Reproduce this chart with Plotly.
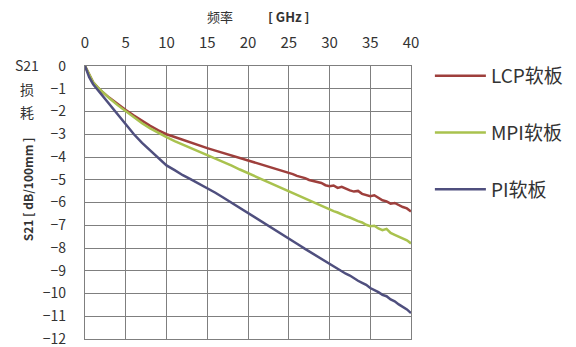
import plotly.graph_objects as go

freq = [0, 0.5, 1, 1.5, 2, 3, 4, 5, 6, 7, 8, 9, 10, 11, 12, 13, 14, 15, 16, 17, 18, 19,
        20, 20.5, 21, 21.5, 22, 22.5, 23, 23.5, 24, 24.5, 25, 25.5, 26, 26.5, 27, 27.5,
        28, 28.5, 29, 29.5, 30, 30.5, 31, 31.5, 32, 32.5, 33, 33.5, 34, 34.5, 35, 35.5,
        36, 36.5, 37, 37.5, 38, 38.5, 39, 39.5, 40]

lcp = [0, -0.4, -0.72, -0.92, -1.1, -1.4, -1.68, -1.93, -2.18, -2.42, -2.63, -2.83, -3.0,
       -3.12, -3.25, -3.38, -3.5, -3.61, -3.72, -3.83, -3.94, -4.05,
       -4.15, -4.21, -4.25, -4.32, -4.37, -4.41, -4.48, -4.53, -4.59, -4.64, -4.71, -4.75,
       -4.83, -4.87, -4.93, -5.01, -5.05, -5.12, -5.14, -5.24, -5.28, -5.25, -5.36, -5.31,
       -5.40, -5.47, -5.52, -5.49, -5.62, -5.66, -5.72, -5.68, -5.80, -5.90, -5.95, -6.05,
       -6.02, -6.12, -6.20, -6.26, -6.40]

mpi = [0, -0.4, -0.72, -0.92, -1.1, -1.42, -1.72, -2.0, -2.27, -2.52, -2.74, -2.95, -3.13,
       -3.3, -3.45, -3.6, -3.75, -3.9, -4.05, -4.21, -4.38, -4.55,
       -4.71, -4.79, -4.87, -4.95, -5.03, -5.11, -5.19, -5.27, -5.35, -5.43, -5.51, -5.58,
       -5.67, -5.74, -5.83, -5.91, -5.99, -6.07, -6.16, -6.22, -6.31, -6.38, -6.44, -6.53,
       -6.60, -6.66, -6.75, -6.82, -6.88, -6.98, -7.04, -7.02, -7.14, -7.22, -7.16, -7.34,
       -7.42, -7.50, -7.58, -7.66, -7.80]

pi = [0, -0.48, -0.8, -1.02, -1.22, -1.7, -2.15, -2.59, -3.0, -3.38, -3.72, -4.05, -4.37,
      -4.58, -4.8, -4.98, -5.17, -5.35, -5.57, -5.79, -6.01, -6.23,
      -6.46, -6.57, -6.68, -6.79, -6.90, -7.01, -7.12, -7.23, -7.34, -7.45, -7.56, -7.68,
      -7.80, -7.92, -8.04, -8.15, -8.27, -8.38, -8.50, -8.58, -8.72, -8.82, -8.91, -9.02,
      -9.13, -9.21, -9.33, -9.44, -9.53, -9.62, -9.76, -9.84, -9.94, -10.06, -10.12, -10.26,
      -10.34, -10.48, -10.60, -10.70, -10.86]

series_names = ["LCP软板", "MPI软板", "PI软板"]
series_values = [lcp, mpi, pi]
series_colors = ["#9e3f3c", "#a9c24e", "#4f4f7e"]

x_ticks = [0, 5, 10, 15, 20, 25, 30, 35, 40]
y_ticks = list(range(0, -13, -1))

# page body has an 8px default margin; lay out in screen pixels and shift
OFF = 8
W, H = 576 - OFF, 347 - OFF
L, R, T, B = 85, 413, 66, 339  # plot area in screen pixels

def px(x):
    return (x - L) / (R - L)

def py(y):
    return (B - y) / (B - T)

fig = go.Figure()
for i, (name, vals, col) in enumerate(zip(series_names, series_values, series_colors)):
    fig.add_trace(go.Scatter(x=freq, y=vals, mode="lines", name=name,
                             legendgroup=str(i),
                             line=dict(color=col, width=2.5)))

font_main = "Noto Sans CJK SC, Liberation Sans, sans-serif"
fig.update_layout(
    width=W, height=H,
    margin=dict(l=L - OFF, r=576 - R, t=T - OFF, b=347 - B),
    paper_bgcolor="white", plot_bgcolor="white",
    font=dict(family=font_main, color="#333333", size=15),
    showlegend=True,
    legend=dict(x=px(432), y=py(57), xanchor="left", yanchor="top",
                traceorder="grouped", tracegroupgap=29, itemwidth=51,
                font=dict(size=19, color="#333333"),
                bgcolor="rgba(0,0,0,0)"),
    xaxis=dict(range=[0, 40], side="top", tickvals=x_ticks, automargin=False,
               showgrid=True, gridcolor="#7f7f7f", gridwidth=1.2,
               showline=True, linecolor="#7f7f7f", linewidth=1.2, mirror=True,
               ticks="", ticklabelstandoff=11, zeroline=False,
               tickfont=dict(size=15, color="#333333")),
    yaxis=dict(range=[-12, 0], tickvals=y_ticks, automargin=False,
               showgrid=True, gridcolor="#7f7f7f", gridwidth=1.2,
               showline=True, linecolor="#7f7f7f", linewidth=1.2, mirror=True,
               ticks="", ticklabelstandoff=15, zeroline=False,
               ticklabeloverflow="allow",
               tickfont=dict(size=14, color="#333333")),
)

annos = [
    dict(text="频率", x=221, y=16.5, size=13),
    dict(text="<b>[ GHz ]</b>", x=290, y=16.5, size=13),
    dict(text="S21", x=27, y=65, size=14),
    dict(text="损", x=27, y=89, size=14),
    dict(text="耗", x=27, y=112, size=14),
]
for a in annos:
    fig.add_annotation(text=a["text"], x=px(a["x"]), y=py(a["y"]), xref="paper", yref="paper",
                       showarrow=False, xanchor="center", yanchor="middle", borderpad=0,
                       font=dict(size=a["size"], color="#333333", family=font_main))
fig.add_annotation(text="<b>S21 [ dB/100mm ]</b>", x=px(27), y=py(189), xref="paper",
                   yref="paper", showarrow=False, textangle=-90,
                   xanchor="center", yanchor="middle",
                   font=dict(size=12, color="#333333", family=font_main))

fig.write_html("out.html")
